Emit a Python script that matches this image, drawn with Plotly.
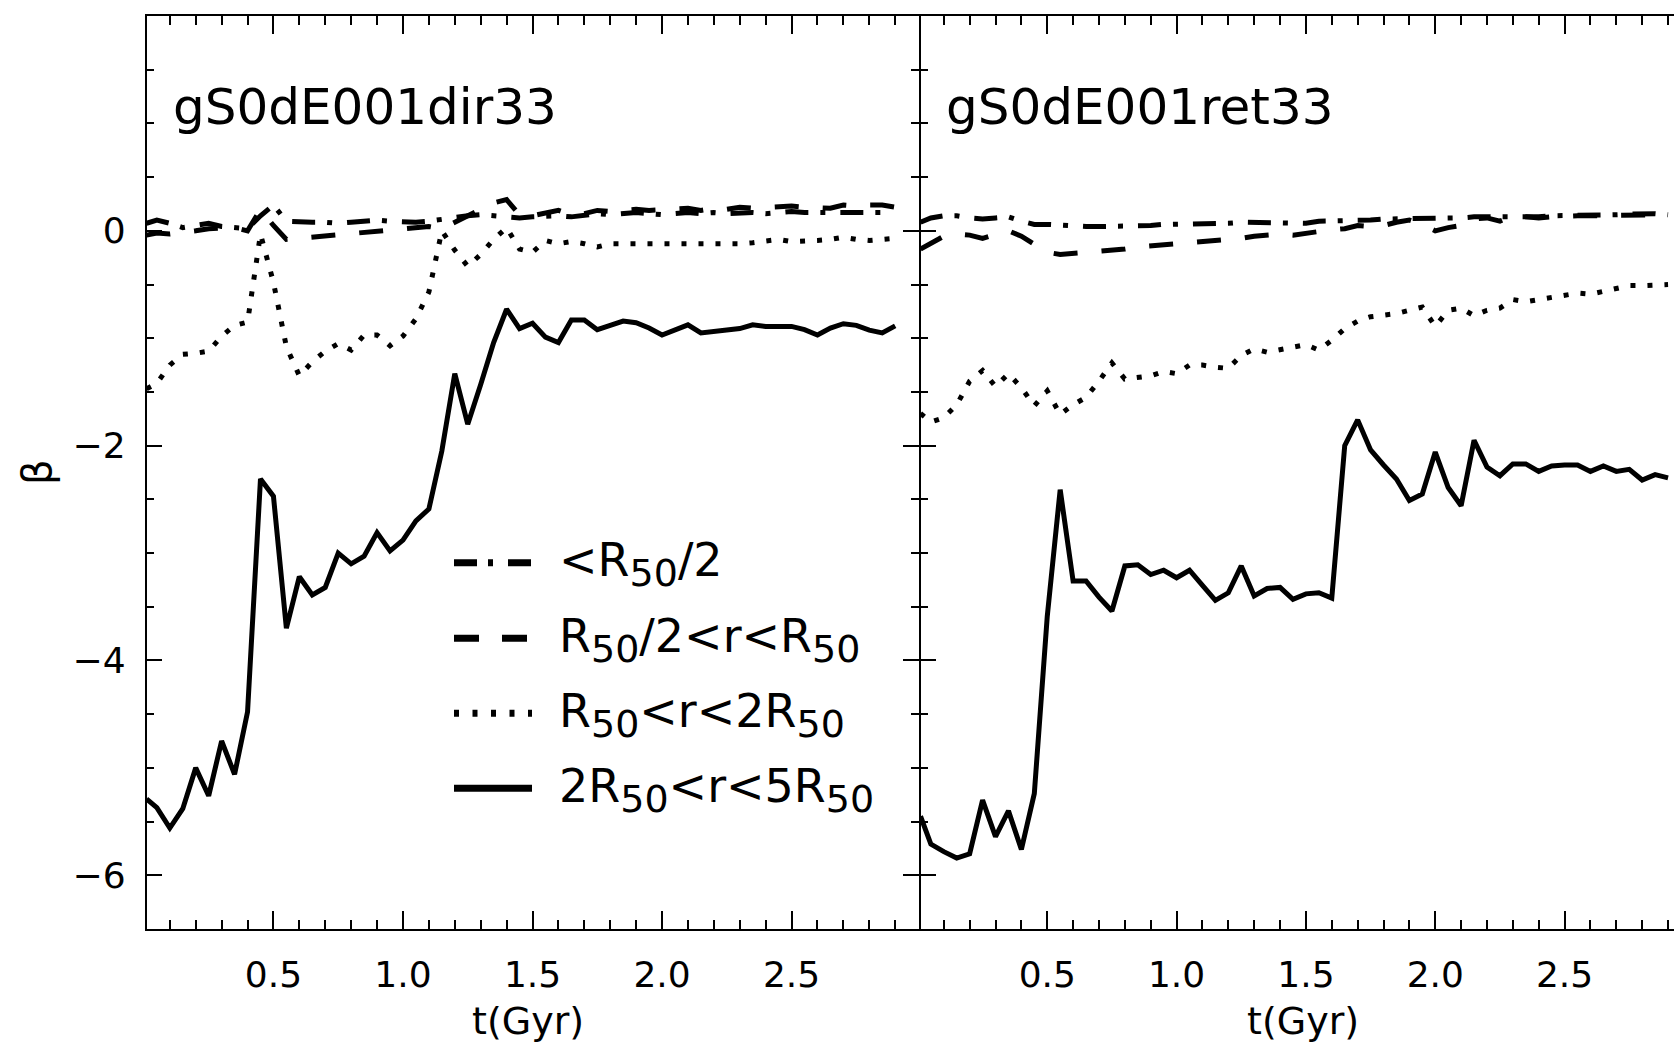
import plotly.graph_objects as go

# ---------------- data ----------------
t = [0.01, 0.05, 0.10, 0.15, 0.20, 0.25, 0.30, 0.35, 0.40, 0.45, 0.50, 0.55, 0.60, 0.65,
     0.70, 0.75, 0.80, 0.85, 0.90, 0.95, 1.00, 1.05, 1.10, 1.15, 1.20, 1.25, 1.30, 1.35,
     1.40, 1.45, 1.50, 1.55, 1.60, 1.65, 1.70, 1.75, 1.80, 1.85, 1.90, 1.95, 2.00, 2.05,
     2.10, 2.15, 2.20, 2.25, 2.30, 2.35, 2.40, 2.45, 2.50, 2.55, 2.60, 2.65, 2.70, 2.75,
     2.80, 2.85, 2.90]

# left panel: gS0dE001dir33
dir_inner = [0.07, 0.10, 0.07, 0.03, 0.05, 0.07, 0.04, 0.03, 0.02, 0.14, 0.24, 0.09, 0.08, 0.08,
             0.08, 0.07, 0.08, 0.09, 0.10, 0.09, 0.08, 0.08, 0.09, 0.11, 0.13, 0.14, 0.15, 0.14,
             0.14, 0.12, 0.13, 0.14, 0.14, 0.13, 0.15, 0.16, 0.15, 0.16, 0.17, 0.16, 0.15, 0.16,
             0.17, 0.16, 0.17, 0.16, 0.17, 0.17, 0.16, 0.17, 0.18, 0.17, 0.17, 0.18, 0.17, 0.18,
             0.17, 0.18, 0.17]
dir_mid = [-0.04, -0.02, -0.03, -0.02, 0.00, 0.02, 0.03, 0.03, 0.00, 0.20, 0.05, -0.08, -0.07, -0.06,
           -0.05, -0.04, -0.03, -0.02, 0.00, 0.01, 0.02, 0.03, 0.04, 0.02, 0.08, 0.15, 0.20, 0.26,
           0.29, 0.15, 0.14, 0.17, 0.19, 0.15, 0.16, 0.19, 0.18, 0.19, 0.20, 0.19, 0.20, 0.20,
           0.21, 0.19, 0.21, 0.20, 0.22, 0.21, 0.22, 0.22, 0.23, 0.22, 0.22, 0.21, 0.24, 0.23,
           0.24, 0.24, 0.22]
dir_outer = [-1.47, -1.42, -1.25, -1.15, -1.14, -1.12, -0.98, -0.88, -0.85, -0.03, -0.48, -1.08, -1.35, -1.22,
             -1.12, -1.05, -1.11, -0.97, -0.97, -1.07, -0.98, -0.82, -0.57, 0.00, -0.18, -0.33, -0.22, -0.08,
             0.03, -0.17, -0.20, -0.09, -0.12, -0.10, -0.12, -0.15, -0.12, -0.12, -0.12, -0.13, -0.12, -0.13,
             -0.13, -0.12, -0.12, -0.12, -0.12, -0.11, -0.10, -0.08, -0.10, -0.10, -0.09, -0.08, -0.06, -0.08,
             -0.09, -0.08, -0.07]
dir_far = [-5.29, -5.37, -5.56, -5.38, -5.00, -5.26, -4.75, -5.06, -4.48, -2.31, -2.47, -3.70, -3.22, -3.39,
           -3.32, -3.00, -3.10, -3.03, -2.81, -2.98, -2.88, -2.70, -2.59, -2.05, -1.33, -1.80, -1.43, -1.04,
           -0.73, -0.91, -0.86, -0.99, -1.04, -0.83, -0.83, -0.92, -0.88, -0.84, -0.855, -0.905, -0.97, -0.92,
           -0.875, -0.95, -0.935, -0.925, -0.91, -0.875, -0.89, -0.89, -0.89, -0.92, -0.97, -0.905, -0.865, -0.88,
           -0.925, -0.95, -0.885]

# right panel: gS0dE001ret33
ret_inner = [0.08, 0.12, 0.14, 0.14, 0.12, 0.11, 0.12, 0.13, 0.09, 0.06, 0.06, 0.05, 0.05, 0.04,
             0.04, 0.04, 0.05, 0.05, 0.05, 0.06, 0.06, 0.06, 0.06, 0.07, 0.07, 0.08, 0.08, 0.08,
             0.08, 0.07, 0.07, 0.09, 0.09, 0.10, 0.10, 0.10, 0.11, 0.11, 0.11, 0.12, 0.12, 0.11,
             0.12, 0.13, 0.13, 0.12, 0.13, 0.13, 0.13, 0.14, 0.14, 0.14, 0.15, 0.15, 0.15, 0.155,
             0.16, 0.16, 0.15]
ret_mid = [-0.17, -0.12, -0.05, -0.03, -0.04, -0.07, -0.03, 0.00, -0.05, -0.12, -0.20, -0.22, -0.21, -0.20,
           -0.20, -0.18, -0.17, -0.15, -0.14, -0.13, -0.13, -0.11, -0.10, -0.09, -0.08, -0.07, -0.05, -0.04,
           -0.03, -0.04, -0.02, 0.00, 0.01, 0.02, 0.05, 0.04, 0.05, 0.08, 0.10, 0.06, 0.00, 0.03,
           0.05, 0.11, 0.12, 0.09, 0.14, 0.13, 0.12, 0.13, 0.14, 0.14, 0.14, 0.14, 0.15, 0.15,
           0.15, 0.15, 0.16]
ret_outer = [-1.70, -1.78, -1.74, -1.62, -1.40, -1.30, -1.45, -1.33, -1.46, -1.63, -1.49, -1.71, -1.62, -1.55,
             -1.40, -1.23, -1.38, -1.37, -1.35, -1.31, -1.33, -1.25, -1.25, -1.27, -1.28, -1.16, -1.10, -1.13,
             -1.11, -1.08, -1.06, -1.11, -1.02, -0.91, -0.84, -0.80, -0.79, -0.77, -0.74, -0.71, -0.89, -0.74,
             -0.72, -0.79, -0.74, -0.72, -0.64, -0.66, -0.64, -0.62, -0.60, -0.58, -0.59, -0.56, -0.54, -0.51,
             -0.51, -0.50, -0.50]
ret_far = [-5.45, -5.71, -5.78, -5.84, -5.80, -5.30, -5.64, -5.40, -5.76, -5.24, -3.59, -2.41, -3.26, -3.26,
           -3.41, -3.54, -3.12, -3.11, -3.20, -3.16, -3.23, -3.16, -3.30, -3.44, -3.37, -3.12, -3.40, -3.33,
           -3.32, -3.43, -3.38, -3.37, -3.42, -2.00, -1.76, -2.04, -2.18, -2.31, -2.51, -2.45, -2.06, -2.39,
           -2.56, -1.95, -2.20, -2.28, -2.17, -2.17, -2.24, -2.19, -2.18, -2.18, -2.24, -2.19, -2.24, -2.22,
           -2.32, -2.27, -2.30]

panel_labels = ["gS0dE001dir33", "gS0dE001ret33"]
SUB = "<sub><span style='font-size:38px'>50</span></sub>"
series_names = ["&lt;R" + SUB + "/2",
                "R" + SUB + "/2&lt;r&lt;R" + SUB,
                "R" + SUB + "&lt;r&lt;2R" + SUB,
                "2R" + SUB + "&lt;r&lt;5R" + SUB]
x_title = "t(Gyr)"
y_title = "β"

# ---------------- styling ----------------
W, H = 1674, 1044
ML, MR, MT, MB = 146, 0, 16, 115
PW, PH = W - ML - MR, H - MT - MB
FONT = "DejaVu Sans"
AX = "black"

def px(x):
    return (x - ML) / PW

def py(y):
    return 1 - (y - MT) / PH

DASHES = ["23px,12px,5px,15px", "24px,24px", "5px,12px", "solid"]
LEG_DASHES = ["23px,11px,5px,15px", "25px,23px", "5px,13.5px", "solid"]

fig = go.Figure()
panels = [("x", "y", [dir_inner, dir_mid, dir_outer, dir_far]),
          ("x2", "y2", [ret_inner, ret_mid, ret_outer, ret_far])]
for xa, ya, series in panels:
    for vals, dash in zip(series, DASHES):
        fig.add_trace(go.Scatter(x=t, y=vals, mode="lines", xaxis=xa, yaxis=ya,
                                 line=dict(color="black", width=5, dash=dash),
                                 showlegend=False, hoverinfo="skip"))

common_x = dict(showline=True, linecolor=AX, linewidth=1.5, ticks="inside", ticklen=18,
                tickwidth=1.5, tickcolor=AX, tickmode="linear", tick0=0, dtick=0.5,
                tickformat=".1f", showgrid=False, zeroline=False,
                tickfont=dict(family=FONT, size=36, color="black"),
                ticklabelstandoff=13, mirror="ticks",
                minor=dict(ticks="inside", ticklen=9, tickwidth=1.5, tickcolor=AX, dtick=0.1))
common_y = dict(showline=True, linecolor=AX, linewidth=1.5, ticks="inside", ticklen=16,
                tickwidth=1.5, tickcolor=AX, tickmode="linear", tick0=0, dtick=2,
                range=[-6.5, 2.0], showgrid=False, zeroline=False,
                tickfont=dict(family=FONT, size=36, color="black"),
                ticklabelstandoff=12,
                minor=dict(ticks="inside", ticklen=8, tickwidth=1.5, tickcolor=AX, dtick=0.5))

fig.update_layout(
    width=W, height=H,
    margin=dict(l=ML, r=MR, t=MT, b=MB),
    paper_bgcolor="white", plot_bgcolor="white",
    showlegend=False,
    font=dict(family=FONT, color="black"),
    xaxis=dict(domain=[px(146.5), px(918.5)], range=[0.01, 2.99], **common_x),
    xaxis2=dict(domain=[px(920.5), 1.0], range=[0.01, 2.923], **common_x),
    yaxis=dict(mirror="ticks", **common_y),
    yaxis2=dict(anchor="x2", mirror=False, showticklabels=False, **common_y),
)

ann = []
# panel labels
for lab, xl in zip(panel_labels, [172, 945]):
    ann.append(dict(text=lab, xref="paper", yref="paper", x=px(xl), y=py(77),
                    xanchor="left", yanchor="top", showarrow=False, borderpad=0,
                    font=dict(family=FONT, size=50, color="black")))
# axis titles
for xc in [528, 1303]:
    ann.append(dict(text=x_title, xref="paper", yref="paper", x=px(xc), y=py(1021),
                    xanchor="center", yanchor="middle", showarrow=False, borderpad=0,
                    font=dict(family=FONT, size=38, color="black")))
ann.append(dict(text=y_title, xref="paper", yref="paper", x=px(37), y=py(472),
                xanchor="center", yanchor="middle", textangle=-90, showarrow=False,
                font=dict(family=FONT, size=40, color="black")))

# legend (drawn inside left panel)
row_line_y = [562.7, 638.3, 713.3, 788.3]
row_base_y = [575, 650.3, 725.3, 800.7]
shapes = []
for name, dash, ly, by in zip(series_names, LEG_DASHES, row_line_y, row_base_y):
    shapes.append(dict(type="line", xref="paper", yref="paper",
                       x0=px(454), x1=px(532), y0=py(ly), y1=py(ly),
                       line=dict(color="black", width=7, dash=dash)))
    ann.append(dict(text=name, xref="paper", yref="paper", x=px(558), y=py(by - 0.928 * 46),
                    xanchor="left", yanchor="top", showarrow=False, borderpad=0,
                    font=dict(family=FONT, size=46, color="black")))

fig.update_layout(annotations=ann, shapes=shapes)
fig.write_html("out.html")
